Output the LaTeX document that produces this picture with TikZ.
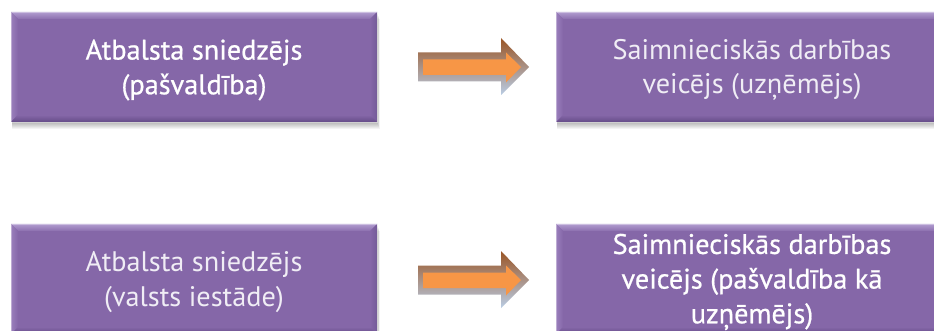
\documentclass[tikz,border=0pt]{standalone}
\usepackage{fontspec}
\setmainfont{PT Sans}
\newfontfamily\medfont[FakeBold=0.7]{PT Sans}
\usetikzlibrary{calc}
\definecolor{boxfill}{HTML}{8567A8}
\definecolor{bevtop}{HTML}{B19CD0}
\definecolor{bevleft}{HTML}{9A7FBC}
\definecolor{bevright}{HTML}{745A98}
\definecolor{bevbot}{HTML}{654C88}
\definecolor{arrfill}{HTML}{F79646}
\definecolor{arrtop}{HTML}{9A5525}
\definecolor{arrbot}{HTML}{B9CDE5}
\tikzset{
  x=0.75pt, y=-0.75pt,
  boxnode/.style={rectangle, fill=boxfill, inner sep=0pt, outer sep=0pt,
    align=center, text=white, font=\fontsize{21.2}{26}\selectfont},
  thintext/.style={text=white!88!boxfill},
  heavytext/.style={text=white, font=\medfont\fontsize{21.2}{26}\selectfont},
}
\newcommand\bevbox[7]{%
  \pgfmathsetmacro\bw{(#4-#2)*0.75}%
  \pgfmathsetmacro\bh{(#5-#3)*0.75}%
  \foreach \i in {1,...,7}{\fill[black,opacity=0.045] (#2+1,#3+\i) rectangle (#4+0.4*\i,#5+\i);}
  \node[boxnode,minimum width=\bw pt,minimum height=\bh pt] (#1) at ({(#2+#4)/2},{(#3+#5)/2}) {};
  \shade[top color=bevtop,bottom color=boxfill!85!bevtop] (#1.north west) -- (#1.north east) -- ++(-7,7) -- ($(#1.north west)+(7,7)$) -- cycle;
  \shade[left color=bevleft,right color=boxfill] (#1.north west) -- ($(#1.north west)+(7,7)$) -- ($(#1.south west)+(7,-7)$) -- (#1.south west) -- cycle;
  \shade[left color=boxfill,right color=bevright] (#1.north east) -- ($(#1.north east)+(-7,7)$) -- ($(#1.south east)+(-7,-7)$) -- (#1.south east) -- cycle;
  \shade[top color=boxfill,bottom color=bevbot] (#1.south west) -- ($(#1.south west)+(7,-7)$) -- ($(#1.south east)+(-7,-7)$) -- (#1.south east) -- cycle;
  \draw[white,opacity=0.35,line width=0.5pt] (#1.north west) rectangle (#1.south east);
  \node[boxnode,fill=none,#6] (#1-text) at ($(#1.center)+(0,3)$) {#7};
}
\newcommand\blockarrow[2]{%
  \begin{scope}[shift={(0,#2)}]
    \shade[top color=arrtop,bottom color=arrbot] (418,-14.5) -- (501,-14.5) -- (501,-29) -- (529,0) -- (501,28) -- (501,14.5) -- (418,14.5) -- cycle;
    \fill[arrfill] (423,-7.5) -- (506,-7.5) -- (506,-14.5) -- (521,0) -- (506,15.5) -- (506,8) -- (423,8) -- cycle;
    \coordinate (#1) at (473,0);
  \end{scope}
}
\begin{document}
\begin{tikzpicture}
\useasboundingbox (0,0) rectangle (934,331);
\clip (0,0) rectangle (934,331);
\fill[white] (0,0) rectangle (934,331);
\bevbox{a1}{11}{12}{377}{122}{heavytext}{Atbalsta sniedzējs\\(pašvaldība)}
\bevbox{b1}{556}{12}{948}{122}{thintext}{Saimnieciskās darbības\\veicējs (uzņēmējs)}
\bevbox{a2}{11}{224}{377}{334}{thintext}{Atbalsta sniedzējs\\(valsts iestāde)}
\bevbox{b2}{556}{224}{948}{334}{heavytext}{Saimnieciskās darbības\\veicējs (pašvaldība kā\\uzņēmējs)}
\blockarrow{ar1}{67}
\blockarrow{ar2}{280}
\end{tikzpicture}
\end{document}
